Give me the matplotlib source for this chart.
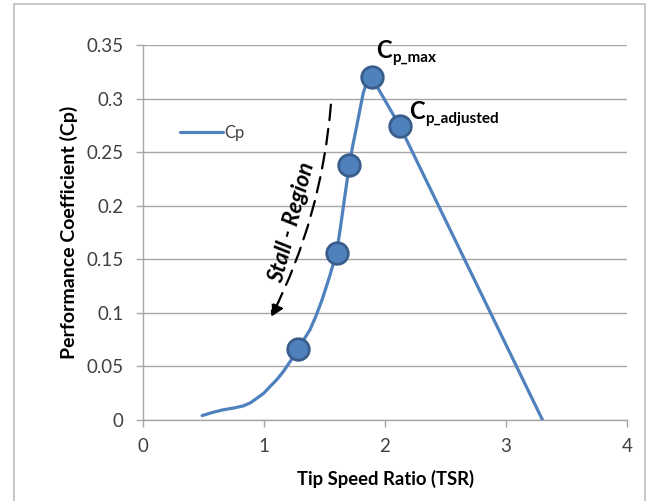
import matplotlib
matplotlib.use("Agg")
import matplotlib.pyplot as plt
from matplotlib.patches import Rectangle, FancyArrowPatch

plt.rcParams['font.family'] = ['Lato', 'DejaVu Sans']

# Cp curve
tsr = [0.49, 0.58, 0.66, 0.75, 0.83, 0.89, 0.94, 1.0, 1.05, 1.11, 1.16, 1.22, 1.28,
       1.33, 1.38, 1.43, 1.48, 1.54, 1.6, 1.63, 1.656, 1.68, 1.705, 1.735, 1.766,
       1.795, 1.82, 1.845, 1.865, 1.89, 2.124, 3.3]
cp = [0.004, 0.007, 0.0093, 0.011, 0.013, 0.016, 0.020, 0.025, 0.031, 0.038, 0.045,
      0.055, 0.066, 0.075, 0.084, 0.097, 0.112, 0.133, 0.156, 0.178, 0.199, 0.218,
      0.238, 0.257, 0.274, 0.291, 0.305, 0.314, 0.319, 0.32, 0.274, 0.0]

# highlighted points
pts_tsr = [1.28, 1.6, 1.705, 1.89, 2.124]
pts_cp = [0.066, 0.156, 0.238, 0.32, 0.274]

xticks = [0, 1, 2, 3, 4]
yticks = [0, 0.05, 0.1, 0.15, 0.2, 0.25, 0.3, 0.35]
ytick_labels = ['0', '0.05', '0.1', '0.15', '0.2', '0.25', '0.3', '0.35']

blue = '#4F81BD'
edge = '#385D8A'
gray = '#A6A6A6'

fig = plt.figure(figsize=(6.52, 5.01), dpi=100)
ax = fig.add_axes([0.219, 0.162, 0.743, 0.748])

# outer frame like the pasted chart border
fig.patches.append(Rectangle((0.021, -0.05), 0.968, 1.042, transform=fig.transFigure,
                             fill=False, edgecolor='#BFBFBF', linewidth=1.2))

ax.plot(tsr, cp, color=blue, linewidth=2.3, label='Cp', zorder=3,
        solid_joinstyle='round', solid_capstyle='round')
ax.plot(pts_tsr, pts_cp, 'o', markersize=15.5, markerfacecolor=blue,
        markeredgecolor=edge, markeredgewidth=2, zorder=4)

ax.set_xlim(0, 4)
ax.set_ylim(0, 0.35)
ax.set_xticks(xticks)
ax.set_yticks(yticks)
ax.set_yticklabels(ytick_labels)
ax.grid(axis='y', color=gray, linewidth=1)
ax.set_axisbelow(True)
for s in ['top', 'right']:
    ax.spines[s].set_visible(False)
for s in ['left', 'bottom']:
    ax.spines[s].set_color(gray)
    ax.spines[s].set_linewidth(1)
ax.tick_params(axis='both', colors=gray, labelcolor='#404040', labelsize=13.5,
               length=5, direction='out', width=1)
ax.tick_params(axis='x', pad=8)
ax.tick_params(axis='y', pad=9)

ax.set_xlabel('Tip Speed Ratio (TSR)', fontsize=13.3, fontweight='bold', labelpad=11)
ax.set_ylabel('Performance Coefficient (Cp)', fontsize=14, fontweight='bold', labelpad=6)

leg = ax.legend(loc='center left', bbox_to_anchor=(0.045, 0.765), frameon=False,
                fontsize=12, handlelength=2.6, handletextpad=0.1)
for t in leg.get_texts():
    t.set_color('#404040')

# annotations
ax.text(1.93, 0.334, 'C', fontsize=17, fontweight='bold', ha='left', va='bottom')
ax.text(2.06, 0.331, 'p_max', fontsize=11, fontweight='bold', ha='left', va='bottom')
ax.text(2.2, 0.277, 'C', fontsize=17, fontweight='bold', ha='left', va='bottom')
ax.text(2.33, 0.274, 'p_adjusted', fontsize=11, fontweight='bold', ha='left', va='bottom')

arrow = FancyArrowPatch((1.555, 0.297), (1.05, 0.094), connectionstyle='arc3,rad=-0.1',
                        arrowstyle='-|>,head_length=7,head_width=4', color='black',
                        linestyle=(0, (7, 4)), linewidth=1.6, mutation_scale=1)
ax.add_patch(arrow)
ax.text(1.235, 0.184, 'Stall - Region', fontsize=16, fontweight='bold', style='italic',
        rotation=75, ha='center', va='center')

fig.savefig('out.png', dpi=100)
